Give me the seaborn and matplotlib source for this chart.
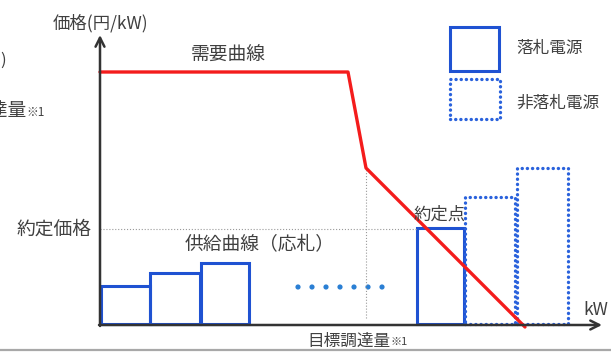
import matplotlib
matplotlib.use("Agg")
import matplotlib.pyplot as plt
import seaborn as sns
import pandas as pd
from matplotlib.patches import Rectangle

# data space: x = kW (schematic), y = price (schematic)
won_left = [1, 50, 101, 317]
won_width = [49, 50, 48, 47]
won_height = [38, 51, 61, 96]

lost_left = [365, 417]
lost_width = [50, 51]
lost_height = [127, 156]

demand_x = [0, 248, 266, 425]
demand_y = [253, 253, 157, -2]

clearing_price = 96
clearing_qty = 317
target_qty = 266

ellipsis_x = [198, 212, 226, 240, 254, 268, 282]
ellipsis_y = [38, 38, 38, 38, 38, 38, 38]

BLUE = "#1f52d2"
BLUE_DOT = "#2a62dc"
RED = "#f41c1c"
TEXT = "#404040"
AXIS = "#333333"
DOTS = (0, (0.05, 1.5))

sns.set_theme(style="white")
plt.rcParams["font.family"] = ["Noto Sans CJK JP", "DejaVu Sans"]

fig = plt.figure(figsize=(6.11, 3.56), dpi=100)
ax = fig.add_axes([0, 0, 1, 1])
ax.set_xlim(-100, 511)
ax.set_ylim(-31, 325)
ax.axis("off")

# axes with arrows
ax.annotate("", xy=(0, 290), xytext=(0, -1),
            arrowprops=dict(arrowstyle="->", color=AXIS, lw=1.8,
                            mutation_scale=16, shrinkA=0, shrinkB=0))
ax.annotate("", xy=(502, 0), xytext=(-1, 0),
            arrowprops=dict(arrowstyle="->", color=AXIS, lw=1.8,
                            mutation_scale=16, shrinkA=0, shrinkB=0))

# guide lines
ax.plot([0, clearing_qty], [clearing_price, clearing_price],
        color="#9a9a9a", lw=0.8, ls=":")
ax.plot([target_qty, target_qty], [7, demand_y[2]],
        color="#9a9a9a", lw=0.8, ls=":")

# supply bids (won)
for l, w, h in zip(won_left, won_width, won_height):
    ax.add_patch(Rectangle((l, 1), w, h, fill=False, ec=BLUE, lw=2.2))

# supply bids (not won)
for l, w, h in zip(lost_left, lost_width, lost_height):
    ax.add_patch(Rectangle((l, 1), w, h, fill=False, ec=BLUE_DOT, lw=2.4,
                           ls=DOTS, capstyle="round"))

sns.scatterplot(x=ellipsis_x, y=ellipsis_y, color="#2a7fd4", s=14,
                edgecolor="none", ax=ax)

# demand curve
demand = pd.DataFrame({"kW": demand_x, "price": demand_y})
sns.lineplot(data=demand, x="kW", y="price", color=RED, lw=2.4,
             sort=False, estimator=None, ax=ax)

# legend boxes
ax.add_patch(Rectangle((350, 254), 49, 44, fill=False, ec=BLUE, lw=2.2))
ax.add_patch(Rectangle((350, 206), 50, 40, fill=False, ec=BLUE_DOT, lw=2.4,
                       ls=DOTS, capstyle="round"))
ax.text(416, 276, "落札電源", fontsize=12, color=TEXT, va="center")
ax.text(416, 222, "非落札電源", fontsize=12, color=TEXT, va="center")

# labels
ax.text(1, 302, "価格(円/kW)", fontsize=12.5, color=TEXT, ha="center", va="center")
ax.text(128, 270, "需要曲線", fontsize=13.5, color=TEXT, ha="center", va="center")
ax.text(-8, clearing_price, "約定価格", fontsize=13.5, color=TEXT,
        ha="right", va="center")
ax.text(85, 80, "供給曲線（応札）", fontsize=13.5, color=TEXT, va="center")
ax.text(314, 110, "約定点", fontsize=12.5, color=TEXT, va="center")
ax.text(483, 15, "kW", fontsize=12.5, color=TEXT, va="center")

t = ax.text(207, -21, "目標調達量", fontsize=12, color=TEXT, va="baseline")
ax.annotate("※1", xy=(1, 0.18), xycoords=t, fontsize=8, color=TEXT,
            va="bottom")

# cropped text at left edge (as in the source screenshot)
t2 = ax.text(-74, 208, "調達量", fontsize=13.5, color=TEXT,
             ha="right", va="baseline")
ax.annotate("※1", xy=(1, 0.12), xycoords=t2, fontsize=8.5, color=TEXT,
            va="bottom")
ax.text(-94, 265, ")", fontsize=12, color=TEXT, ha="right", va="center")

# bottom border
ax.plot([-100, 511], [-25, -25], color="#a8a8a8", lw=1.6)

fig.savefig("out.png", dpi=100)
